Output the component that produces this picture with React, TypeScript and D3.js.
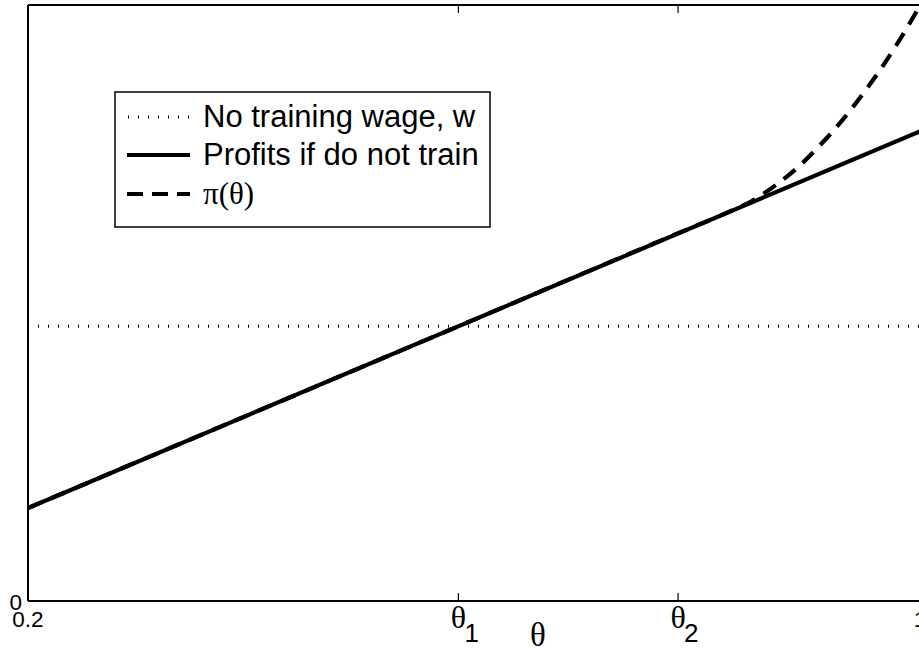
import React from "react";
import * as d3 from "d3";

// ---- data ----
const thetaDomain = [0.2, 1.0];
const theta1 = 0.586;
const theta2 = 0.783;
const noTrainingWage = 0.461;

// Profits if do not train (straight line), endpoints
const profitTheta = [0.2, 1.0];
const profitValues = [0.156, 0.788];

// pi(theta) dashed curve
const piTheta = [0.2, 0.4, 0.586, 0.783, 0.83, 0.85, 0.87, 0.89, 0.91, 0.93, 0.95, 0.97, 0.99, 1.0];
const piValues = [0.156, 0.314, 0.461, 0.617, 0.654, 0.672, 0.697, 0.727, 0.764, 0.806, 0.854, 0.907, 0.967, 0.999];

const xTickValues = [0.2, theta1, theta2, 1.0];
const xTickMain = ["0.2", "θ", "θ", "1"];
const xTickSub = ["", "1", "2", ""];
const yTickValues = [0];
const yTickLabels = ["0"];

const legendLabels = ["No training wage, w", "Profits if do not train", "π(θ)"];

const W = 919;
const H = 649;
const M = { left: 28, top: 5, right: 920, bottom: 601 };

export default function App() {
  const x = d3.scaleLinear().domain(thetaDomain).range([M.left, M.right]);
  const y = d3.scaleLinear().domain([0, 1]).range([M.bottom, M.top]);

  const line = d3
    .line<[number, number]>()
    .x((d) => x(d[0]))
    .y((d) => y(d[1]));
  const curve = d3
    .line<[number, number]>()
    .x((d) => x(d[0]))
    .y((d) => y(d[1]))
    .curve(d3.curveMonotoneX);

  const profitPts = profitTheta.map((t, i) => [t, profitValues[i]] as [number, number]);
  const piPts = piTheta.map((t, i) => [t, piValues[i]] as [number, number]);
  const wagePts: [number, number][] = [
    [thetaDomain[0], noTrainingWage],
    [thetaDomain[1], noTrainingWage],
  ];

  const sans = "'Liberation Sans', Arial, Helvetica, sans-serif";
  const serif = "'Liberation Serif', 'Times New Roman', serif";

  const legX = 115, legY = 92, legW = 375, legH = 135;
  const rowY = [117, 155, 194];
  const sampleX0 = 127, sampleX1 = 190, textX = 203;

  return (
    <svg
      width={W}
      height={H}
      viewBox={`0 0 ${W} ${H}`}
      style={{ position: "absolute", left: 0, top: 0, background: "#fff" }}
    >
      <rect x={0} y={0} width={W} height={H} fill="#fff" />
      <defs>
        <clipPath id="plotClip">
          <rect x={M.left} y={M.top} width={M.right - M.left} height={M.bottom - M.top} />
        </clipPath>
      </defs>

      <g clipPath="url(#plotClip)">
        <path d={line(wagePts) || ""} fill="none" stroke="#000" strokeWidth={3} strokeDasharray="1 9" />
        <path d={line(profitPts) || ""} fill="none" stroke="#000" strokeWidth={4.2} />
        <path d={curve(piPts) || ""} fill="none" stroke="#000" strokeWidth={4.2} strokeDasharray="15 10" />
      </g>

      {/* axes box */}
      <line x1={M.left} x2={M.left} y1={M.top} y2={M.bottom} stroke="#000" strokeWidth={2} />
      <line x1={M.left} x2={M.right} y1={M.top} y2={M.top} stroke="#000" strokeWidth={2} />
      <line x1={M.left} x2={M.right} y1={M.bottom} y2={M.bottom} stroke="#000" strokeWidth={2} />
      <line x1={M.right} x2={M.right} y1={M.top} y2={M.bottom} stroke="#000" strokeWidth={2} />

      {/* x ticks */}
      {xTickValues.map((v, i) => (
        <g key={"xt" + i}>
          <line x1={x(v)} x2={x(v)} y1={M.bottom} y2={M.bottom - 8} stroke="#000" strokeWidth={1.2} />
          <line x1={x(v)} x2={x(v)} y1={M.top} y2={M.top + 8} stroke="#000" strokeWidth={1.2} />
          {xTickSub[i] === "" ? (
            <text x={x(v)} y={627} textAnchor="middle" fontFamily={sans} fontSize={22.5} fill="#000">
              {xTickMain[i]}
            </text>
          ) : (
            <g>
              <text x={x(v)} y={628} textAnchor="middle" fontFamily={serif} fontSize={32} fill="#000">
                {xTickMain[i]}
              </text>
              <text x={x(v) + 6} y={642} textAnchor="start" fontFamily={sans} fontSize={26} fill="#000">
                {xTickSub[i]}
              </text>
            </g>
          )}
        </g>
      ))}

      {/* y ticks */}
      {yTickValues.map((v, i) => (
        <text key={"yt" + i} x={22} y={y(v) + 9} textAnchor="end" fontFamily={sans} fontSize={22.5} fill="#000">
          {yTickLabels[i]}
        </text>
      ))}

      {/* x label */}
      <text x={538} y={646} textAnchor="middle" fontFamily={serif} fontSize={33} fill="#000">
        θ
      </text>

      {/* legend */}
      <rect x={legX} y={legY} width={legW} height={legH} fill="#fff" stroke="#000" strokeWidth={1.5} />
      <line x1={sampleX0} x2={sampleX1} y1={rowY[0]} y2={rowY[0]} stroke="#000" strokeWidth={3} strokeDasharray="1 9" strokeDashoffset={-1} />
      <line x1={sampleX0} x2={sampleX1} y1={rowY[1]} y2={rowY[1]} stroke="#000" strokeWidth={4} />
      <line x1={sampleX0} x2={sampleX1} y1={rowY[2]} y2={rowY[2]} stroke="#000" strokeWidth={4} strokeDasharray="16 9" />
      <text x={textX} y={127} fontFamily={sans} fontSize={31} fill="#000">{legendLabels[0]}</text>
      <text x={textX} y={165} fontFamily={sans} fontSize={31} fill="#000">{legendLabels[1]}</text>
      <text x={textX} y={204} fontFamily={serif} fontSize={31} fill="#000">{legendLabels[2]}</text>
    </svg>
  );
}
